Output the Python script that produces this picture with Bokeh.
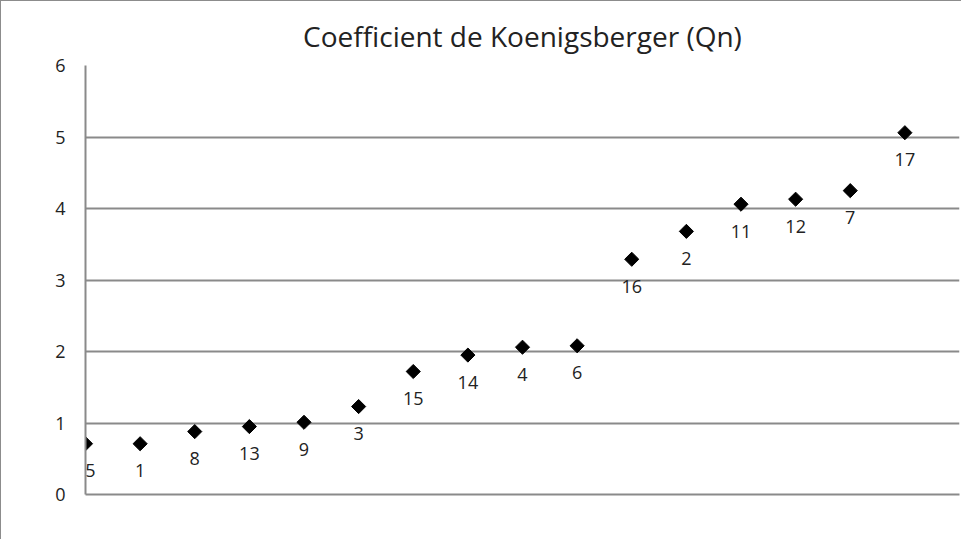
import numpy as np
from bokeh.plotting import figure
from bokeh.models import Range1d, FixedTicker, ColumnDataSource, Title
from bokeh.core.properties import value
from bokeh.embed import file_html
from bokeh.resources import INLINE

# Data
sample_labels = ["5", "1", "8", "13", "9", "3", "15", "14", "4", "6", "16", "2", "11", "12", "7", "17"]
qn_values = [0.71, 0.71, 0.88, 0.95, 1.01, 1.23, 1.72, 1.95, 2.06, 2.08, 3.29, 3.68, 4.06, 4.13, 4.25, 5.06]
positions = list(range(len(sample_labels)))
y_ticks = [0, 1, 2, 3, 4, 5, 6]
title_text = "Coefficient de Koenigsberger (Qn)"

FONT = "Open Sans"
GRID = "#8a8a8a"
TXT = "#222222"

# first label sits against the axis, nudge it right so it is not clipped
label_dx = [5 if i == 0 else 0 for i in range(len(sample_labels))]

src = ColumnDataSource(dict(x=positions, y=qn_values, lab=sample_labels, dx=label_dx))

p = figure(width=961, height=539, output_backend="svg", toolbar_location=None,
           x_range=Range1d(0, 16), y_range=Range1d(0, 6),
           min_border_left=84, min_border_right=3, min_border_top=64, min_border_bottom=46)
p.styles = {"border-left": "1px solid #8c8c8c", "border-top": "1px solid #8c8c8c"}
p.outline_line_color = None
p.background_fill_color = "white"

p.title = Title(text=title_text, align="center", text_font=FONT, text_font_size="28px",
                text_font_style="normal", text_color=TXT, standoff=21)

p.xgrid.visible = False
p.ygrid.ticker = FixedTicker(ticks=y_ticks)
p.ygrid.grid_line_color = GRID
p.ygrid.grid_line_width = 2

p.yaxis.ticker = FixedTicker(ticks=y_ticks)
p.yaxis.major_tick_line_color = None
p.yaxis.minor_tick_line_color = None
p.yaxis.major_tick_out = 0
p.yaxis.major_tick_in = 0
p.yaxis.axis_line_color = GRID
p.yaxis.axis_line_width = 2
p.yaxis.major_label_text_font = FONT
p.yaxis.major_label_text_font_size = "18px"
p.yaxis.major_label_text_color = TXT
p.yaxis.major_label_standoff = 20

p.xaxis.major_tick_line_color = None
p.xaxis.minor_tick_line_color = None
p.xaxis.major_tick_out = 0
p.xaxis.major_label_text_color = None
p.xaxis.axis_line_color = GRID
p.xaxis.axis_line_width = 2
p.xaxis.ticker = FixedTicker(ticks=[])

p.scatter("x", "y", source=src, marker="square", angle=np.pi / 4, size=10,
          fill_color="black", line_color="black")
p.text("x", "y", text="lab", source=src, x_offset="dx", y_offset=27, text_align="center",
       text_baseline="middle", text_font=value(FONT), text_font_size="18px",
       text_color=TXT)

open("out.html", "w").write(file_html(p, INLINE))
